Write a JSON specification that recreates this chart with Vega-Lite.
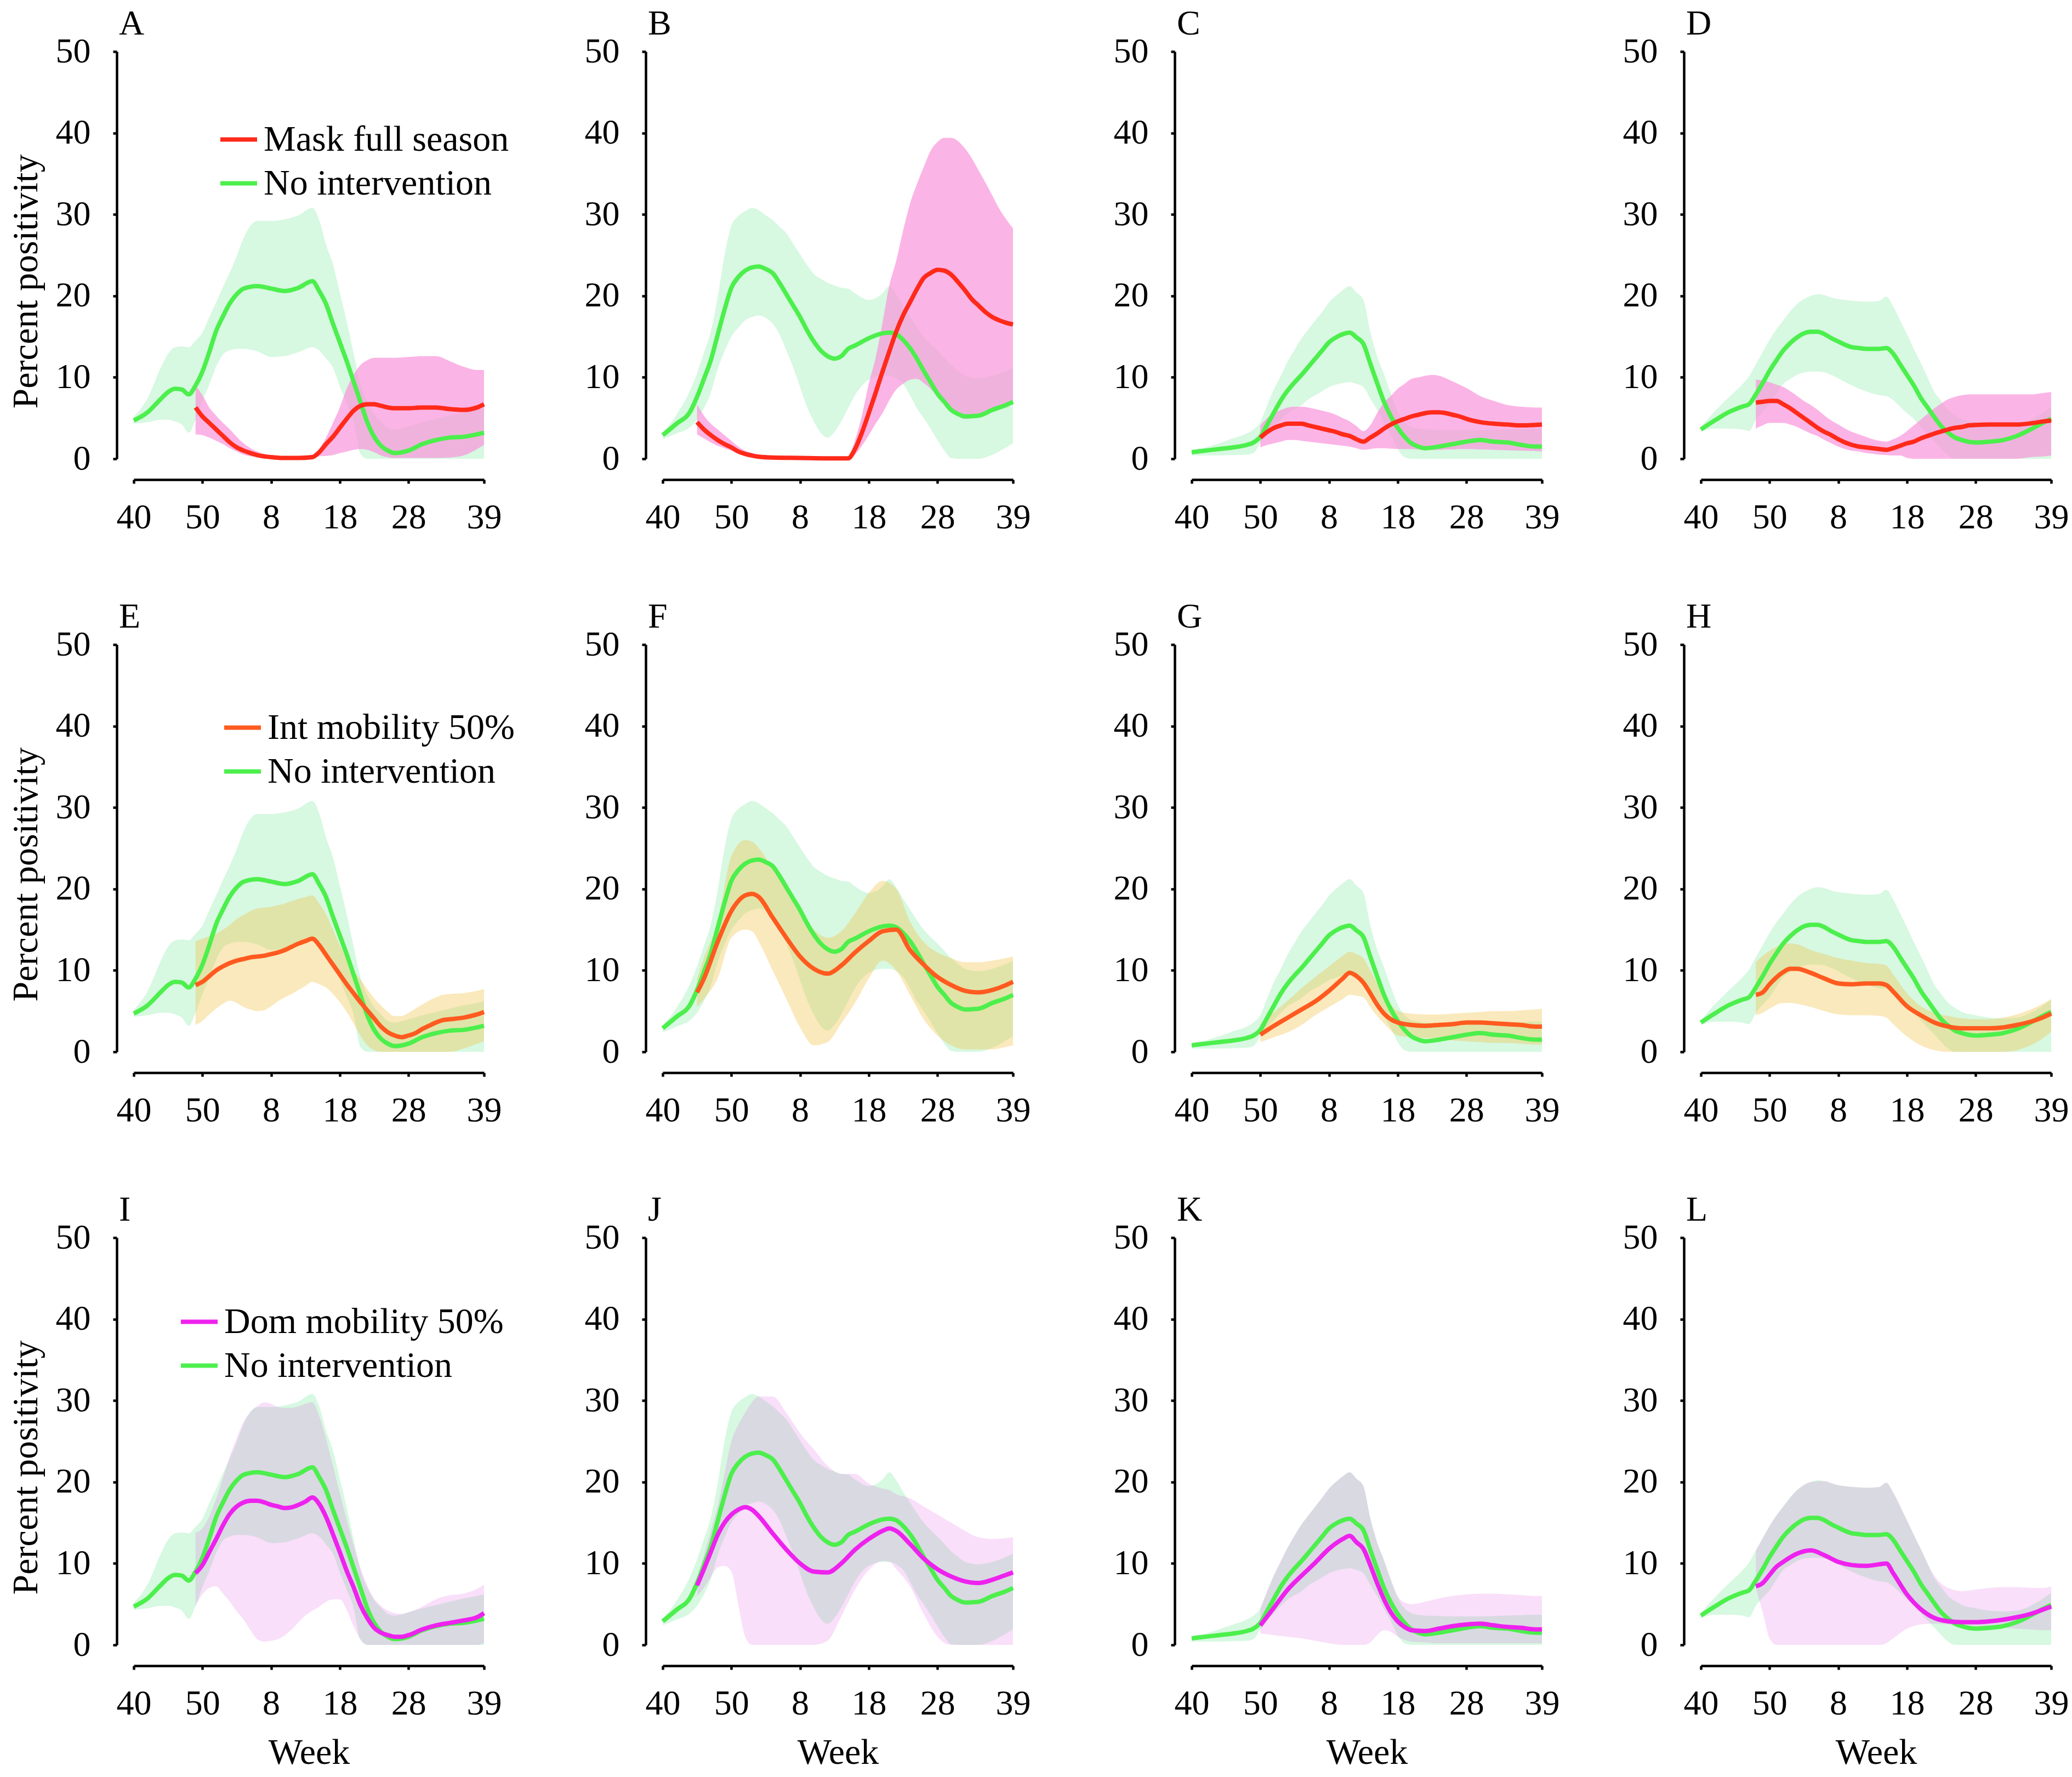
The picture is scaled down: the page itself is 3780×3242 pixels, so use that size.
{
"$schema":"https://vega.github.io/schema/vega-lite/v6.json",
"background":"white",
"padding":{"left":14,"top":12,"right":10,"bottom":10},
"config":{
 "view":{"stroke":null},
 "font":"Liberation Serif",
 "axis":{"grid":false,"domainColor":"#000","domainWidth":4.5,"tickColor":"#000","tickWidth":4.5,"tickSize":7,"labelFont":"Liberation Serif","labelFontSize":64,"labelColor":"#000","titleFont":"Liberation Serif","titleFontSize":66,"titleFontWeight":"normal","titleColor":"#000","labelFlush":false,"labelOverlap":false},
 "axisX":{"offset":38,"labelPadding":30,"titlePadding":25},
 "axisY":{"offset":31,"labelPadding":41,"titlePadding":20},
 "title":{"font":"Liberation Serif","fontSize":64,"fontWeight":"normal","anchor":"start","frame":"group","color":"#000","dx":-27,"offset":-14},
 "legend":{"orient":"none","symbolType":"stroke","symbolSize":4489,"symbolStrokeWidth":8,"labelFont":"Liberation Serif","labelFontSize":66,"labelColor":"#000","labelOffset":8,"rowPadding":9,"padding":0,"labelLimit":2000},
 "line":{"interpolate":"monotone","strokeWidth":8},
 "area":{"interpolate":"monotone"}
},
"datasets":{"d":[
{"p":"N1","t":0,"m":4.7,"lo":4.3,"hi":5.2},{"p":"N1","t":2,"m":5.7,"lo":4.5,"hi":7.4},{"p":"N1","t":4,"m":7.4,"lo":4.8,"hi":11.3},{"p":"N1","t":5,"m":8.2,"lo":4.8,"hi":12.9},{"p":"N1","t":6,"m":8.6,"lo":4.6,"hi":13.7},{"p":"N1","t":7,"m":8.5,"lo":4.2,"hi":13.8},{"p":"N1","t":8,"m":7.9,"lo":3.2,"hi":13.7},{"p":"N1","t":9,"m":9.0,"lo":4.8,"hi":14.5},{"p":"N1","t":10,"m":10.7,"lo":7.1,"hi":15.5},{"p":"N1","t":11,"m":13.1,"lo":9.1,"hi":17.4},{"p":"N1","t":12,"m":15.7,"lo":11.3,"hi":19.2},{"p":"N1","t":13,"m":17.5,"lo":12.8,"hi":21.1},{"p":"N1","t":14,"m":19.1,"lo":13.3,"hi":22.9},{"p":"N1","t":15,"m":20.2,"lo":13.5,"hi":24.9},{"p":"N1","t":16,"m":20.9,"lo":13.5,"hi":27.1},{"p":"N1","t":18,"m":21.2,"lo":13.2,"hi":29.2},{"p":"N1","t":20,"m":20.9,"lo":12.5,"hi":29.2},{"p":"N1","t":22,"m":20.6,"lo":12.6,"hi":29.4},{"p":"N1","t":24,"m":21.0,"lo":13.1,"hi":29.9},{"p":"N1","t":26,"m":21.8,"lo":13.7,"hi":30.8},{"p":"N1","t":27,"m":20.6,"lo":13.3,"hi":29.3},{"p":"N1","t":28,"m":19.0,"lo":12.3,"hi":26.3},{"p":"N1","t":29,"m":16.6,"lo":11.2,"hi":23.9},{"p":"N1","t":30,"m":14.3,"lo":8.9,"hi":20.4},{"p":"N1","t":31,"m":12.0,"lo":6.8,"hi":16.9},{"p":"N1","t":32,"m":9.5,"lo":4.6,"hi":13.0},{"p":"N1","t":33,"m":7.0,"lo":0.6,"hi":9.2},{"p":"N1","t":34,"m":4.5,"lo":0,"hi":7.0},{"p":"N1","t":35,"m":2.7,"lo":0,"hi":5.5},{"p":"N1","t":36,"m":1.6,"lo":0,"hi":4.6},{"p":"N1","t":37,"m":1.0,"lo":0,"hi":3.8},{"p":"N1","t":38,"m":0.7,"lo":0,"hi":3.6},{"p":"N1","t":40,"m":1.0,"lo":0,"hi":4.0},{"p":"N1","t":42,"m":1.8,"lo":0,"hi":4.5},{"p":"N1","t":44,"m":2.3,"lo":0,"hi":4.9},{"p":"N1","t":46,"m":2.6,"lo":0,"hi":5.3},{"p":"N1","t":48,"m":2.7,"lo":0,"hi":5.7},{"p":"N1","t":50,"m":3.0,"lo":0,"hi":6.0},{"p":"N1","t":51,"m":3.2,"lo":0,"hi":6.2},
{"p":"A","t":9,"m":6.3,"lo":3.0,"hi":9.0},{"p":"A","t":10,"m":5.2,"lo":2.9,"hi":7.8},{"p":"A","t":11,"m":4.4,"lo":2.6,"hi":6.3},{"p":"A","t":12,"m":3.6,"lo":2.2,"hi":5.3},{"p":"A","t":13,"m":2.8,"lo":1.8,"hi":4.4},{"p":"A","t":14,"m":2.0,"lo":1.3,"hi":3.6},{"p":"A","t":15,"m":1.4,"lo":0.9,"hi":2.7},{"p":"A","t":16,"m":1.0,"lo":0.5,"hi":1.9},{"p":"A","t":17,"m":0.7,"lo":0.3,"hi":1.3},{"p":"A","t":18,"m":0.45,"lo":0.2,"hi":0.9},{"p":"A","t":20,"m":0.2,"lo":0.1,"hi":0.4},{"p":"A","t":22,"m":0.1,"lo":0.05,"hi":0.25},{"p":"A","t":24,"m":0.1,"lo":0.05,"hi":0.2},{"p":"A","t":26,"m":0.2,"lo":0.1,"hi":0.4},{"p":"A","t":27,"m":0.8,"lo":0.3,"hi":1.2},{"p":"A","t":28,"m":1.8,"lo":0.35,"hi":2.6},{"p":"A","t":29,"m":2.7,"lo":0.45,"hi":4.4},{"p":"A","t":30,"m":3.8,"lo":0.7,"hi":6.3},{"p":"A","t":31,"m":4.9,"lo":0.9,"hi":8.6},{"p":"A","t":32,"m":5.9,"lo":1.1,"hi":10.3},{"p":"A","t":33,"m":6.5,"lo":1.2,"hi":11.5},{"p":"A","t":34,"m":6.7,"lo":1.1,"hi":12.1},{"p":"A","t":35,"m":6.7,"lo":0.8,"hi":12.4},{"p":"A","t":36,"m":6.5,"lo":0.4,"hi":12.4},{"p":"A","t":38,"m":6.2,"lo":0.1,"hi":12.4},{"p":"A","t":40,"m":6.2,"lo":0.1,"hi":12.5},{"p":"A","t":42,"m":6.3,"lo":0.1,"hi":12.6},{"p":"A","t":44,"m":6.3,"lo":0.1,"hi":12.6},{"p":"A","t":46,"m":6.1,"lo":0.15,"hi":12.0},{"p":"A","t":48,"m":6.0,"lo":0.4,"hi":11.3},{"p":"A","t":50,"m":6.3,"lo":1.2,"hi":10.9},{"p":"A","t":51,"m":6.7,"lo":1.7,"hi":10.9},
{"p":"N2","t":0,"m":2.9,"lo":2.4,"hi":3.2},{"p":"N2","t":2,"m":4.3,"lo":3.1,"hi":5.4},{"p":"N2","t":4,"m":5.8,"lo":3.9,"hi":8.4},{"p":"N2","t":5,"m":7.6,"lo":4.8,"hi":10.5},{"p":"N2","t":6,"m":9.8,"lo":6.2,"hi":13.0},{"p":"N2","t":7,"m":12.1,"lo":8.1,"hi":15.6},{"p":"N2","t":8,"m":15.2,"lo":11.0,"hi":19.8},{"p":"N2","t":9,"m":18.3,"lo":13.2,"hi":25.0},{"p":"N2","t":10,"m":21.0,"lo":15.0,"hi":28.6},{"p":"N2","t":11,"m":22.3,"lo":16.1,"hi":29.8},{"p":"N2","t":12,"m":23.1,"lo":17.0,"hi":30.4},{"p":"N2","t":13,"m":23.5,"lo":17.4,"hi":30.8},{"p":"N2","t":14,"m":23.6,"lo":17.6,"hi":30.5},{"p":"N2","t":15,"m":23.3,"lo":17.3,"hi":29.9},{"p":"N2","t":16,"m":22.8,"lo":16.6,"hi":29.3},{"p":"N2","t":17,"m":21.6,"lo":15.3,"hi":28.5},{"p":"N2","t":18,"m":20.2,"lo":13.3,"hi":27.7},{"p":"N2","t":19,"m":18.8,"lo":11.2,"hi":26.4},{"p":"N2","t":20,"m":17.4,"lo":8.8,"hi":25.1},{"p":"N2","t":21,"m":15.8,"lo":6.4,"hi":23.8},{"p":"N2","t":22,"m":14.4,"lo":4.6,"hi":22.7},{"p":"N2","t":23,"m":13.3,"lo":3.2,"hi":22.1},{"p":"N2","t":24,"m":12.6,"lo":2.6,"hi":21.6},{"p":"N2","t":25,"m":12.3,"lo":3.3,"hi":21.3},{"p":"N2","t":26,"m":12.6,"lo":4.6,"hi":21.0},{"p":"N2","t":27,"m":13.5,"lo":6.2,"hi":20.9},{"p":"N2","t":28,"m":13.9,"lo":7.8,"hi":20.3},{"p":"N2","t":30,"m":14.8,"lo":9.7,"hi":19.5},{"p":"N2","t":32,"m":15.4,"lo":10.2,"hi":20.3},{"p":"N2","t":33,"m":15.5,"lo":10.2,"hi":21.2},{"p":"N2","t":34,"m":15.3,"lo":9.9,"hi":20.2},{"p":"N2","t":35,"m":14.6,"lo":9.2,"hi":18.8},{"p":"N2","t":36,"m":13.6,"lo":7.8,"hi":17.5},{"p":"N2","t":37,"m":12.3,"lo":6.2,"hi":16.2},{"p":"N2","t":38,"m":10.8,"lo":5.0,"hi":15.0},{"p":"N2","t":39,"m":9.4,"lo":3.7,"hi":14.1},{"p":"N2","t":40,"m":8.0,"lo":2.3,"hi":13.3},{"p":"N2","t":41,"m":7.0,"lo":1.0,"hi":12.4},{"p":"N2","t":42,"m":6.0,"lo":0.1,"hi":11.5},{"p":"N2","t":43,"m":5.5,"lo":0,"hi":10.8},{"p":"N2","t":44,"m":5.2,"lo":0,"hi":10.2},{"p":"N2","t":46,"m":5.3,"lo":0,"hi":9.9},{"p":"N2","t":48,"m":6.0,"lo":0.5,"hi":10.2},{"p":"N2","t":50,"m":6.6,"lo":1.4,"hi":10.8},{"p":"N2","t":51,"m":7.0,"lo":1.9,"hi":11.2},
{"p":"B","t":5,"m":4.5,"lo":3.0,"hi":6.7},{"p":"B","t":6,"m":3.6,"lo":2.5,"hi":5.3},{"p":"B","t":7,"m":2.9,"lo":2.0,"hi":4.3},{"p":"B","t":8,"m":2.3,"lo":1.6,"hi":3.6},{"p":"B","t":9,"m":1.8,"lo":1.3,"hi":2.9},{"p":"B","t":10,"m":1.4,"lo":1.0,"hi":2.2},{"p":"B","t":11,"m":0.9,"lo":0.7,"hi":1.5},{"p":"B","t":12,"m":0.6,"lo":0.45,"hi":1.0},{"p":"B","t":13,"m":0.4,"lo":0.3,"hi":0.7},{"p":"B","t":14,"m":0.25,"lo":0.2,"hi":0.5},{"p":"B","t":16,"m":0.15,"lo":0.1,"hi":0.35},{"p":"B","t":20,"m":0.1,"lo":0.05,"hi":0.25},{"p":"B","t":24,"m":0.05,"lo":0.02,"hi":0.2},{"p":"B","t":27,"m":0.05,"lo":0.02,"hi":0.2},{"p":"B","t":28,"m":1.2,"lo":0.5,"hi":2.3},{"p":"B","t":29,"m":3.2,"lo":1.6,"hi":5.3},{"p":"B","t":30,"m":5.6,"lo":2.9,"hi":9.2},{"p":"B","t":31,"m":8.1,"lo":4.3,"hi":12.4},{"p":"B","t":32,"m":10.7,"lo":5.6,"hi":16.7},{"p":"B","t":33,"m":13.2,"lo":7.2,"hi":21.3},{"p":"B","t":34,"m":15.6,"lo":8.5,"hi":24.3},{"p":"B","t":35,"m":17.6,"lo":9.2,"hi":28.0},{"p":"B","t":36,"m":19.2,"lo":9.7,"hi":31.3},{"p":"B","t":37,"m":20.8,"lo":9.8,"hi":33.7},{"p":"B","t":38,"m":22.2,"lo":9.3,"hi":35.8},{"p":"B","t":39,"m":22.8,"lo":8.6,"hi":37.8},{"p":"B","t":40,"m":23.2,"lo":7.7,"hi":38.9},{"p":"B","t":41,"m":23.1,"lo":6.8,"hi":39.4},{"p":"B","t":42,"m":22.6,"lo":6.0,"hi":39.4},{"p":"B","t":43,"m":21.7,"lo":5.3,"hi":39.0},{"p":"B","t":44,"m":20.7,"lo":4.9,"hi":38.1},{"p":"B","t":45,"m":19.6,"lo":5.0,"hi":36.9},{"p":"B","t":46,"m":18.8,"lo":5.1,"hi":35.4},{"p":"B","t":47,"m":18.0,"lo":5.4,"hi":33.9},{"p":"B","t":48,"m":17.4,"lo":5.8,"hi":32.3},{"p":"B","t":49,"m":17.0,"lo":6.1,"hi":30.7},{"p":"B","t":50,"m":16.7,"lo":6.4,"hi":29.4},{"p":"B","t":51,"m":16.5,"lo":6.7,"hi":28.3},
{"p":"N3","t":0,"m":0.8,"lo":0.4,"hi":1.1},{"p":"N3","t":2,"m":1.0,"lo":0.4,"hi":1.4},{"p":"N3","t":4,"m":1.2,"lo":0.4,"hi":1.9},{"p":"N3","t":6,"m":1.4,"lo":0.45,"hi":2.5},{"p":"N3","t":8,"m":1.7,"lo":0.5,"hi":3.1},{"p":"N3","t":9,"m":2.0,"lo":0.7,"hi":3.6},{"p":"N3","t":10,"m":2.7,"lo":1.9,"hi":4.5},{"p":"N3","t":11,"m":4.2,"lo":3.0,"hi":6.6},{"p":"N3","t":12,"m":5.7,"lo":3.9,"hi":8.6},{"p":"N3","t":13,"m":7.2,"lo":4.8,"hi":10.2},{"p":"N3","t":14,"m":8.4,"lo":5.6,"hi":12.0},{"p":"N3","t":15,"m":9.4,"lo":6.1,"hi":13.4},{"p":"N3","t":16,"m":10.3,"lo":6.6,"hi":14.8},{"p":"N3","t":17,"m":11.3,"lo":7.3,"hi":15.9},{"p":"N3","t":18,"m":12.3,"lo":7.8,"hi":17.0},{"p":"N3","t":19,"m":13.3,"lo":8.3,"hi":18.0},{"p":"N3","t":20,"m":14.3,"lo":8.8,"hi":19.2},{"p":"N3","t":21,"m":14.9,"lo":9.1,"hi":20.0},{"p":"N3","t":22,"m":15.3,"lo":9.3,"hi":20.7},{"p":"N3","t":23,"m":15.5,"lo":9.4,"hi":21.2},{"p":"N3","t":24,"m":14.9,"lo":9.2,"hi":20.4},{"p":"N3","t":25,"m":14.1,"lo":8.8,"hi":19.5},{"p":"N3","t":26,"m":11.7,"lo":7.4,"hi":15.6},{"p":"N3","t":27,"m":9.3,"lo":6.0,"hi":12.6},{"p":"N3","t":28,"m":7.0,"lo":4.4,"hi":10.4},{"p":"N3","t":29,"m":5.2,"lo":2.9,"hi":8.0},{"p":"N3","t":30,"m":3.8,"lo":1.2,"hi":5.8},{"p":"N3","t":31,"m":2.7,"lo":0.2,"hi":4.5},{"p":"N3","t":32,"m":1.9,"lo":0,"hi":3.9},{"p":"N3","t":33,"m":1.5,"lo":0,"hi":3.7},{"p":"N3","t":34,"m":1.3,"lo":0,"hi":3.6},{"p":"N3","t":36,"m":1.5,"lo":0,"hi":3.55},{"p":"N3","t":38,"m":1.8,"lo":0,"hi":3.5},{"p":"N3","t":40,"m":2.1,"lo":0,"hi":3.5},{"p":"N3","t":42,"m":2.3,"lo":0,"hi":3.5},{"p":"N3","t":44,"m":2.1,"lo":0,"hi":3.55},{"p":"N3","t":46,"m":2.0,"lo":0,"hi":3.6},{"p":"N3","t":48,"m":1.7,"lo":0,"hi":3.65},{"p":"N3","t":50,"m":1.5,"lo":0,"hi":3.7},{"p":"N3","t":51,"m":1.5,"lo":0,"hi":3.7},
{"p":"C","t":10,"m":2.6,"lo":1.4,"hi":4.1},{"p":"C","t":11,"m":3.3,"lo":1.7,"hi":5.0},{"p":"C","t":12,"m":3.8,"lo":1.9,"hi":5.6},{"p":"C","t":13,"m":4.1,"lo":2.1,"hi":6.0},{"p":"C","t":14,"m":4.3,"lo":2.3,"hi":6.3},{"p":"C","t":15,"m":4.3,"lo":2.3,"hi":6.4},{"p":"C","t":16,"m":4.3,"lo":2.2,"hi":6.4},{"p":"C","t":17,"m":4.1,"lo":2.1,"hi":6.3},{"p":"C","t":18,"m":3.9,"lo":2.0,"hi":6.1},{"p":"C","t":19,"m":3.7,"lo":1.9,"hi":5.9},{"p":"C","t":20,"m":3.5,"lo":1.8,"hi":5.7},{"p":"C","t":21,"m":3.3,"lo":1.7,"hi":5.4},{"p":"C","t":22,"m":3.0,"lo":1.6,"hi":5.0},{"p":"C","t":23,"m":2.8,"lo":1.5,"hi":4.6},{"p":"C","t":24,"m":2.4,"lo":1.3,"hi":4.0},{"p":"C","t":25,"m":2.1,"lo":1.1,"hi":3.4},{"p":"C","t":26,"m":2.6,"lo":1.2,"hi":4.1},{"p":"C","t":27,"m":3.1,"lo":1.3,"hi":5.6},{"p":"C","t":28,"m":3.7,"lo":1.3,"hi":6.9},{"p":"C","t":29,"m":4.2,"lo":1.25,"hi":7.7},{"p":"C","t":30,"m":4.6,"lo":1.2,"hi":8.6},{"p":"C","t":31,"m":4.9,"lo":1.2,"hi":9.2},{"p":"C","t":32,"m":5.2,"lo":1.2,"hi":9.8},{"p":"C","t":33,"m":5.4,"lo":1.15,"hi":10.0},{"p":"C","t":34,"m":5.6,"lo":1.1,"hi":10.2},{"p":"C","t":35,"m":5.7,"lo":1.1,"hi":10.3},{"p":"C","t":36,"m":5.7,"lo":1.1,"hi":10.2},{"p":"C","t":37,"m":5.6,"lo":1.15,"hi":9.9},{"p":"C","t":38,"m":5.4,"lo":1.15,"hi":9.5},{"p":"C","t":39,"m":5.2,"lo":1.2,"hi":9.1},{"p":"C","t":40,"m":4.9,"lo":1.2,"hi":8.7},{"p":"C","t":42,"m":4.5,"lo":1.15,"hi":7.7},{"p":"C","t":44,"m":4.3,"lo":1.1,"hi":7.1},{"p":"C","t":46,"m":4.2,"lo":1.05,"hi":6.6},{"p":"C","t":48,"m":4.1,"lo":1.0,"hi":6.4},{"p":"C","t":50,"m":4.15,"lo":0.95,"hi":6.3},{"p":"C","t":51,"m":4.2,"lo":0.9,"hi":6.3},
{"p":"N4","t":0,"m":3.6,"lo":3.3,"hi":3.9},{"p":"N4","t":2,"m":4.7,"lo":3.7,"hi":5.8},{"p":"N4","t":4,"m":5.7,"lo":3.7,"hi":7.5},{"p":"N4","t":6,"m":6.4,"lo":3.6,"hi":9.1},{"p":"N4","t":7,"m":6.7,"lo":3.4,"hi":10.1},{"p":"N4","t":8,"m":7.9,"lo":4.8,"hi":11.6},{"p":"N4","t":9,"m":9.3,"lo":5.8,"hi":13.1},{"p":"N4","t":10,"m":10.8,"lo":6.7,"hi":14.6},{"p":"N4","t":11,"m":12.1,"lo":8.0,"hi":15.9},{"p":"N4","t":12,"m":13.3,"lo":9.2,"hi":17.0},{"p":"N4","t":13,"m":14.2,"lo":9.8,"hi":18.1},{"p":"N4","t":14,"m":14.9,"lo":10.3,"hi":19.0},{"p":"N4","t":15,"m":15.4,"lo":10.6,"hi":19.6},{"p":"N4","t":16,"m":15.6,"lo":10.7,"hi":20.0},{"p":"N4","t":17,"m":15.6,"lo":10.7,"hi":20.2},{"p":"N4","t":18,"m":15.3,"lo":10.6,"hi":20.1},{"p":"N4","t":19,"m":14.8,"lo":10.3,"hi":19.8},{"p":"N4","t":20,"m":14.4,"lo":9.9,"hi":19.6},{"p":"N4","t":21,"m":14.0,"lo":9.4,"hi":19.5},{"p":"N4","t":22,"m":13.7,"lo":9.0,"hi":19.4},{"p":"N4","t":23,"m":13.6,"lo":8.6,"hi":19.35},{"p":"N4","t":24,"m":13.5,"lo":8.3,"hi":19.3},{"p":"N4","t":25,"m":13.5,"lo":8.0,"hi":19.3},{"p":"N4","t":26,"m":13.5,"lo":7.8,"hi":19.4},{"p":"N4","t":27,"m":13.6,"lo":7.7,"hi":19.9},{"p":"N4","t":28,"m":12.9,"lo":7.2,"hi":18.7},{"p":"N4","t":29,"m":11.6,"lo":6.4,"hi":17.0},{"p":"N4","t":30,"m":10.3,"lo":5.6,"hi":15.3},{"p":"N4","t":31,"m":9.0,"lo":4.9,"hi":13.5},{"p":"N4","t":32,"m":7.5,"lo":3.9,"hi":11.8},{"p":"N4","t":33,"m":6.3,"lo":3.0,"hi":10.0},{"p":"N4","t":34,"m":5.1,"lo":2.1,"hi":8.2},{"p":"N4","t":35,"m":4.0,"lo":1.2,"hi":7.1},{"p":"N4","t":36,"m":3.2,"lo":0.4,"hi":6.0},{"p":"N4","t":37,"m":2.6,"lo":0,"hi":5.4},{"p":"N4","t":38,"m":2.3,"lo":0,"hi":4.9},{"p":"N4","t":40,"m":2.0,"lo":0,"hi":4.5},{"p":"N4","t":42,"m":2.1,"lo":0,"hi":4.2},{"p":"N4","t":44,"m":2.3,"lo":0,"hi":4.1},{"p":"N4","t":46,"m":2.8,"lo":0,"hi":4.2},{"p":"N4","t":48,"m":3.6,"lo":0,"hi":4.8},{"p":"N4","t":50,"m":4.5,"lo":0,"hi":5.8},{"p":"N4","t":51,"m":4.9,"lo":0,"hi":6.4},
{"p":"D","t":8,"m":6.9,"lo":3.7,"hi":9.7},{"p":"D","t":9,"m":7.0,"lo":4.1,"hi":9.6},{"p":"D","t":10,"m":7.1,"lo":4.4,"hi":9.4},{"p":"D","t":11,"m":7.1,"lo":4.4,"hi":9.1},{"p":"D","t":12,"m":6.7,"lo":4.4,"hi":8.8},{"p":"D","t":13,"m":6.2,"lo":4.2,"hi":8.3},{"p":"D","t":14,"m":5.6,"lo":3.9,"hi":7.7},{"p":"D","t":15,"m":5.0,"lo":3.5,"hi":7.1},{"p":"D","t":16,"m":4.4,"lo":3.1,"hi":6.6},{"p":"D","t":17,"m":3.8,"lo":2.8,"hi":6.0},{"p":"D","t":18,"m":3.3,"lo":2.3,"hi":5.3},{"p":"D","t":19,"m":2.9,"lo":1.9,"hi":4.7},{"p":"D","t":20,"m":2.4,"lo":1.5,"hi":4.2},{"p":"D","t":21,"m":2.0,"lo":1.2,"hi":3.7},{"p":"D","t":22,"m":1.7,"lo":1.0,"hi":3.3},{"p":"D","t":23,"m":1.5,"lo":0.9,"hi":3.0},{"p":"D","t":24,"m":1.4,"lo":0.7,"hi":2.7},{"p":"D","t":25,"m":1.3,"lo":0.6,"hi":2.4},{"p":"D","t":26,"m":1.2,"lo":0.5,"hi":2.2},{"p":"D","t":27,"m":1.1,"lo":0.45,"hi":2.1},{"p":"D","t":28,"m":1.3,"lo":0.4,"hi":2.4},{"p":"D","t":29,"m":1.6,"lo":0.4,"hi":2.8},{"p":"D","t":30,"m":1.9,"lo":0.1,"hi":3.4},{"p":"D","t":31,"m":2.1,"lo":0,"hi":4.1},{"p":"D","t":32,"m":2.5,"lo":0,"hi":4.8},{"p":"D","t":33,"m":2.8,"lo":0,"hi":5.5},{"p":"D","t":34,"m":3.1,"lo":0,"hi":6.2},{"p":"D","t":35,"m":3.35,"lo":0,"hi":6.8},{"p":"D","t":36,"m":3.6,"lo":0,"hi":7.3},{"p":"D","t":37,"m":3.8,"lo":0,"hi":7.6},{"p":"D","t":38,"m":3.9,"lo":0,"hi":7.8},{"p":"D","t":39,"m":4.1,"lo":0,"hi":7.9},{"p":"D","t":40,"m":4.15,"lo":0,"hi":7.9},{"p":"D","t":42,"m":4.2,"lo":0,"hi":7.9},{"p":"D","t":44,"m":4.2,"lo":0,"hi":7.9},{"p":"D","t":46,"m":4.2,"lo":0,"hi":7.9},{"p":"D","t":48,"m":4.35,"lo":0.2,"hi":7.9},{"p":"D","t":50,"m":4.6,"lo":0.3,"hi":8.1},{"p":"D","t":51,"m":4.7,"lo":0.4,"hi":8.2},
{"p":"E","t":9,"m":8.2,"lo":3.3,"hi":13.6},{"p":"E","t":10,"m":8.6,"lo":3.8,"hi":13.9},{"p":"E","t":11,"m":9.3,"lo":4.6,"hi":14.2},{"p":"E","t":12,"m":10.0,"lo":5.3,"hi":14.5},{"p":"E","t":13,"m":10.5,"lo":5.9,"hi":15.0},{"p":"E","t":14,"m":10.9,"lo":6.3,"hi":15.6},{"p":"E","t":15,"m":11.2,"lo":6.0,"hi":16.3},{"p":"E","t":16,"m":11.4,"lo":5.5,"hi":16.8},{"p":"E","t":17,"m":11.6,"lo":5.2,"hi":17.3},{"p":"E","t":18,"m":11.7,"lo":5.0,"hi":17.6},{"p":"E","t":19,"m":11.8,"lo":5.1,"hi":17.7},{"p":"E","t":20,"m":12.0,"lo":5.6,"hi":17.8},{"p":"E","t":21,"m":12.2,"lo":6.2,"hi":18.0},{"p":"E","t":22,"m":12.5,"lo":6.7,"hi":18.2},{"p":"E","t":23,"m":12.9,"lo":7.1,"hi":18.5},{"p":"E","t":24,"m":13.3,"lo":7.6,"hi":18.8},{"p":"E","t":25,"m":13.6,"lo":8.1,"hi":19.0},{"p":"E","t":26,"m":13.9,"lo":8.6,"hi":19.2},{"p":"E","t":27,"m":13.1,"lo":8.3,"hi":18.2},{"p":"E","t":28,"m":11.9,"lo":7.9,"hi":16.9},{"p":"E","t":29,"m":10.7,"lo":7.1,"hi":15.0},{"p":"E","t":30,"m":9.5,"lo":6.1,"hi":13.1},{"p":"E","t":31,"m":8.3,"lo":4.9,"hi":11.6},{"p":"E","t":32,"m":7.2,"lo":3.5,"hi":10.0},{"p":"E","t":33,"m":6.1,"lo":2.0,"hi":8.9},{"p":"E","t":34,"m":5.1,"lo":0.8,"hi":7.7},{"p":"E","t":35,"m":4.1,"lo":0.2,"hi":6.6},{"p":"E","t":36,"m":3.1,"lo":0,"hi":5.7},{"p":"E","t":37,"m":2.4,"lo":0,"hi":4.9},{"p":"E","t":38,"m":2.0,"lo":0,"hi":4.4},{"p":"E","t":39,"m":1.8,"lo":0,"hi":4.4},{"p":"E","t":40,"m":2.0,"lo":0,"hi":4.8},{"p":"E","t":41,"m":2.3,"lo":0,"hi":5.3},{"p":"E","t":42,"m":2.8,"lo":0,"hi":5.8},{"p":"E","t":43,"m":3.2,"lo":0,"hi":6.3},{"p":"E","t":44,"m":3.6,"lo":0,"hi":6.7},{"p":"E","t":45,"m":3.9,"lo":0,"hi":7.0},{"p":"E","t":46,"m":4.0,"lo":0,"hi":7.1},{"p":"E","t":48,"m":4.2,"lo":0.4,"hi":7.2},{"p":"E","t":50,"m":4.6,"lo":1.0,"hi":7.5},{"p":"E","t":51,"m":4.9,"lo":1.3,"hi":7.7},
{"p":"F","t":5,"m":7.3,"lo":5.5,"hi":9},{"p":"F","t":6,"m":9.0,"lo":6.5,"hi":11.5},{"p":"F","t":8,"m":13.5,"lo":9,"hi":16},{"p":"F","t":10,"m":17.3,"lo":14,"hi":24},{"p":"F","t":12,"m":19.2,"lo":15,"hi":26},{"p":"F","t":13,"m":19.4,"lo":14.8,"hi":25.8},{"p":"F","t":14,"m":19.0,"lo":13.5,"hi":25},{"p":"F","t":16,"m":16.5,"lo":10,"hi":22.5},{"p":"F","t":18,"m":14.0,"lo":6.5,"hi":19.8},{"p":"F","t":20,"m":11.7,"lo":3,"hi":17},{"p":"F","t":22,"m":10.2,"lo":0.8,"hi":15},{"p":"F","t":24,"m":9.6,"lo":1.2,"hi":14},{"p":"F","t":26,"m":10.6,"lo":3.5,"hi":14.8},{"p":"F","t":28,"m":12.2,"lo":6,"hi":17},{"p":"F","t":30,"m":13.6,"lo":9,"hi":19.5},{"p":"F","t":32,"m":14.8,"lo":11.2,"hi":21},{"p":"F","t":34,"m":15.0,"lo":10,"hi":20},{"p":"F","t":36,"m":12.5,"lo":7,"hi":16},{"p":"F","t":38,"m":10.7,"lo":4,"hi":13.5},{"p":"F","t":40,"m":9.2,"lo":2,"hi":12.2},{"p":"F","t":42,"m":8.2,"lo":0.8,"hi":11.5},{"p":"F","t":44,"m":7.5,"lo":0.3,"hi":11},{"p":"F","t":46,"m":7.3,"lo":0.3,"hi":11},{"p":"F","t":48,"m":7.6,"lo":0.3,"hi":11.2},{"p":"F","t":50,"m":8.2,"lo":0.6,"hi":11.5},{"p":"F","t":51,"m":8.6,"lo":0.8,"hi":11.7},
{"p":"G","t":10,"m":2.1,"lo":1.2,"hi":3.5},{"p":"G","t":12,"m":3.2,"lo":1.8,"hi":4.9},{"p":"G","t":14,"m":4.2,"lo":2.4,"hi":6.3},{"p":"G","t":16,"m":5.2,"lo":3.3,"hi":7.8},{"p":"G","t":18,"m":6.2,"lo":4.5,"hi":9.2},{"p":"G","t":20,"m":7.5,"lo":5.5,"hi":10.5},{"p":"G","t":22,"m":9.0,"lo":6.5,"hi":11.8},{"p":"G","t":23,"m":9.7,"lo":7.0,"hi":12.3},{"p":"G","t":24,"m":9.3,"lo":6.9,"hi":12.0},{"p":"G","t":25,"m":8.5,"lo":6.7,"hi":11.5},{"p":"G","t":26,"m":7.2,"lo":5.5,"hi":10.0},{"p":"G","t":27,"m":5.8,"lo":4.4,"hi":8.5},{"p":"G","t":28,"m":4.7,"lo":3.5,"hi":7.0},{"p":"G","t":29,"m":4.0,"lo":2.6,"hi":5.8},{"p":"G","t":30,"m":3.6,"lo":2.0,"hi":5.0},{"p":"G","t":32,"m":3.3,"lo":1.8,"hi":4.7},{"p":"G","t":34,"m":3.2,"lo":1.7,"hi":4.6},{"p":"G","t":36,"m":3.3,"lo":1.6,"hi":4.6},{"p":"G","t":38,"m":3.4,"lo":1.4,"hi":4.7},{"p":"G","t":40,"m":3.6,"lo":1.3,"hi":4.8},{"p":"G","t":42,"m":3.6,"lo":1.2,"hi":4.9},{"p":"G","t":44,"m":3.5,"lo":1.1,"hi":5.0},{"p":"G","t":46,"m":3.4,"lo":1.1,"hi":5.0},{"p":"G","t":48,"m":3.3,"lo":1.0,"hi":5.1},{"p":"G","t":50,"m":3.1,"lo":0.9,"hi":5.2},{"p":"G","t":51,"m":3.1,"lo":0.9,"hi":5.3},
{"p":"H","t":8,"m":7.0,"lo":4.5,"hi":11},{"p":"H","t":9,"m":7.3,"lo":4.8,"hi":11.8},{"p":"H","t":10,"m":8.3,"lo":5.3,"hi":12.4},{"p":"H","t":12,"m":9.8,"lo":6.0,"hi":13.2},{"p":"H","t":13,"m":10.2,"lo":6.0,"hi":13.3},{"p":"H","t":14,"m":10.2,"lo":5.9,"hi":13.2},{"p":"H","t":16,"m":9.7,"lo":5.5,"hi":12.5},{"p":"H","t":18,"m":9.0,"lo":5.0,"hi":12},{"p":"H","t":20,"m":8.4,"lo":4.6,"hi":11.5},{"p":"H","t":22,"m":8.3,"lo":4.5,"hi":11.2},{"p":"H","t":24,"m":8.4,"lo":4.5,"hi":10.9},{"p":"H","t":26,"m":8.4,"lo":4.4,"hi":10.8},{"p":"H","t":27,"m":8.2,"lo":4.2,"hi":10.6},{"p":"H","t":28,"m":7.4,"lo":3.4,"hi":9.5},{"p":"H","t":30,"m":5.6,"lo":1.9,"hi":7.2},{"p":"H","t":32,"m":4.5,"lo":0.8,"hi":5.6},{"p":"H","t":34,"m":3.6,"lo":0.2,"hi":4.8},{"p":"H","t":36,"m":3.1,"lo":0,"hi":4.4},{"p":"H","t":38,"m":2.9,"lo":0,"hi":4.1},{"p":"H","t":40,"m":2.9,"lo":0,"hi":4.0},{"p":"H","t":42,"m":2.9,"lo":0,"hi":4.0},{"p":"H","t":44,"m":3.0,"lo":0,"hi":4.2},{"p":"H","t":46,"m":3.3,"lo":0.2,"hi":4.6},{"p":"H","t":48,"m":3.7,"lo":0.8,"hi":5.2},{"p":"H","t":50,"m":4.3,"lo":1.8,"hi":6.0},{"p":"H","t":51,"m":4.7,"lo":2.5,"hi":6.5},
{"p":"I","t":9,"m":8.8,"lo":4.8,"hi":13.8},{"p":"I","t":10,"m":9.8,"lo":6.2,"hi":14.3},{"p":"I","t":11,"m":11.4,"lo":7.0,"hi":15.8},{"p":"I","t":12,"m":13.0,"lo":7.2,"hi":17.9},{"p":"I","t":13,"m":14.7,"lo":6.3,"hi":20.5},{"p":"I","t":14,"m":16.1,"lo":5.3,"hi":23.2},{"p":"I","t":15,"m":17.0,"lo":4.1,"hi":25.4},{"p":"I","t":16,"m":17.5,"lo":3.1,"hi":27.4},{"p":"I","t":17,"m":17.7,"lo":1.8,"hi":28.6},{"p":"I","t":18,"m":17.7,"lo":0.7,"hi":29.3},{"p":"I","t":19,"m":17.5,"lo":0.4,"hi":29.8},{"p":"I","t":20,"m":17.2,"lo":0.5,"hi":29.6},{"p":"I","t":21,"m":17.0,"lo":0.7,"hi":29.2},{"p":"I","t":22,"m":16.8,"lo":1.2,"hi":29.1},{"p":"I","t":23,"m":16.9,"lo":1.9,"hi":29.1},{"p":"I","t":24,"m":17.2,"lo":2.8,"hi":29.3},{"p":"I","t":25,"m":17.6,"lo":3.6,"hi":29.6},{"p":"I","t":26,"m":18.1,"lo":4.2,"hi":29.8},{"p":"I","t":27,"m":17.3,"lo":4.7,"hi":28.1},{"p":"I","t":28,"m":15.7,"lo":5.3,"hi":25.3},{"p":"I","t":29,"m":13.6,"lo":5.6,"hi":22.0},{"p":"I","t":30,"m":11.4,"lo":5.6,"hi":18.6},{"p":"I","t":31,"m":9.1,"lo":4.3,"hi":15.4},{"p":"I","t":32,"m":7.1,"lo":2.3,"hi":12.3},{"p":"I","t":33,"m":4.9,"lo":0.7,"hi":9.5},{"p":"I","t":34,"m":3.3,"lo":0,"hi":7.3},{"p":"I","t":35,"m":2.1,"lo":0,"hi":5.7},{"p":"I","t":36,"m":1.5,"lo":0,"hi":4.8},{"p":"I","t":37,"m":1.2,"lo":0,"hi":4.2},{"p":"I","t":38,"m":1.0,"lo":0,"hi":3.9},{"p":"I","t":39,"m":1.0,"lo":0,"hi":3.8},{"p":"I","t":40,"m":1.2,"lo":0,"hi":4.0},{"p":"I","t":42,"m":1.9,"lo":0,"hi":4.7},{"p":"I","t":44,"m":2.4,"lo":0,"hi":5.6},{"p":"I","t":46,"m":2.7,"lo":0,"hi":6.1},{"p":"I","t":48,"m":3.0,"lo":0,"hi":6.3},{"p":"I","t":50,"m":3.4,"lo":0,"hi":6.9},{"p":"I","t":51,"m":3.9,"lo":0.2,"hi":7.4},
{"p":"J","t":5,"m":7.3,"lo":6,"hi":8},{"p":"J","t":6,"m":9.3,"lo":7,"hi":11},{"p":"J","t":7,"m":11.4,"lo":8.3,"hi":14},{"p":"J","t":8,"m":13.5,"lo":9.5,"hi":17},{"p":"J","t":9,"m":15.0,"lo":9.7,"hi":21},{"p":"J","t":10,"m":16.0,"lo":9.0,"hi":25},{"p":"J","t":11,"m":16.6,"lo":5.0,"hi":27},{"p":"J","t":12,"m":16.9,"lo":1.0,"hi":28.5},{"p":"J","t":13,"m":16.6,"lo":0,"hi":29.8},{"p":"J","t":14,"m":15.8,"lo":0,"hi":30.5},{"p":"J","t":16,"m":13.7,"lo":0,"hi":30.5},{"p":"J","t":18,"m":11.7,"lo":0,"hi":28.5},{"p":"J","t":20,"m":10.0,"lo":0,"hi":26},{"p":"J","t":22,"m":9.0,"lo":0,"hi":24},{"p":"J","t":24,"m":8.9,"lo":0.5,"hi":22},{"p":"J","t":26,"m":10.0,"lo":3.5,"hi":21},{"p":"J","t":28,"m":11.7,"lo":6.8,"hi":21},{"p":"J","t":30,"m":13.0,"lo":9.2,"hi":19.8},{"p":"J","t":32,"m":14.0,"lo":10.3,"hi":19.2},{"p":"J","t":33,"m":14.3,"lo":10.2,"hi":19},{"p":"J","t":34,"m":14.0,"lo":9.3,"hi":18.5},{"p":"J","t":36,"m":12.4,"lo":7.2,"hi":18},{"p":"J","t":38,"m":10.6,"lo":3.8,"hi":17},{"p":"J","t":40,"m":9.3,"lo":1.0,"hi":16},{"p":"J","t":42,"m":8.4,"lo":0,"hi":15},{"p":"J","t":44,"m":7.8,"lo":0,"hi":14},{"p":"J","t":46,"m":7.6,"lo":0,"hi":13.2},{"p":"J","t":48,"m":8.0,"lo":0,"hi":13},{"p":"J","t":50,"m":8.6,"lo":0,"hi":13.1},{"p":"J","t":51,"m":8.9,"lo":0,"hi":13.2},
{"p":"K","t":10,"m":2.4,"lo":1.4,"hi":4.5},{"p":"K","t":12,"m":4.6,"lo":1.2,"hi":8.6},{"p":"K","t":14,"m":6.8,"lo":1.0,"hi":12.0},{"p":"K","t":16,"m":8.5,"lo":0.8,"hi":14.8},{"p":"K","t":18,"m":10.1,"lo":0.5,"hi":17.0},{"p":"K","t":20,"m":11.8,"lo":0.2,"hi":19.2},{"p":"K","t":22,"m":13.0,"lo":0,"hi":20.7},{"p":"K","t":23,"m":13.4,"lo":0,"hi":21.2},{"p":"K","t":24,"m":12.6,"lo":0,"hi":20.4},{"p":"K","t":25,"m":11.8,"lo":0,"hi":19.5},{"p":"K","t":26,"m":9.8,"lo":0.3,"hi":15.6},{"p":"K","t":27,"m":7.6,"lo":1.2,"hi":12.6},{"p":"K","t":28,"m":5.6,"lo":1.8,"hi":10.4},{"p":"K","t":29,"m":4.0,"lo":1.6,"hi":8.0},{"p":"K","t":30,"m":2.9,"lo":1.0,"hi":6.0},{"p":"K","t":31,"m":2.2,"lo":0.6,"hi":5.2},{"p":"K","t":32,"m":1.8,"lo":0.4,"hi":5.0},{"p":"K","t":34,"m":1.7,"lo":0.3,"hi":5.3},{"p":"K","t":36,"m":2.0,"lo":0.2,"hi":5.7},{"p":"K","t":38,"m":2.3,"lo":0.2,"hi":6.0},{"p":"K","t":40,"m":2.5,"lo":0.2,"hi":6.2},{"p":"K","t":42,"m":2.6,"lo":0.2,"hi":6.3},{"p":"K","t":44,"m":2.4,"lo":0.2,"hi":6.3},{"p":"K","t":46,"m":2.2,"lo":0.2,"hi":6.2},{"p":"K","t":48,"m":2.1,"lo":0.2,"hi":6.1},{"p":"K","t":50,"m":1.9,"lo":0.2,"hi":6.0},{"p":"K","t":51,"m":1.9,"lo":0.2,"hi":6.0},
{"p":"L","t":8,"m":7.2,"lo":7.0,"hi":11.6},{"p":"L","t":9,"m":7.6,"lo":4.0,"hi":13.1},{"p":"L","t":10,"m":8.6,"lo":0.8,"hi":14.6},{"p":"L","t":11,"m":9.6,"lo":0,"hi":15.9},{"p":"L","t":12,"m":10.2,"lo":0,"hi":17.0},{"p":"L","t":14,"m":11.2,"lo":0,"hi":19.0},{"p":"L","t":16,"m":11.6,"lo":0,"hi":20.0},{"p":"L","t":18,"m":11.0,"lo":0,"hi":20.1},{"p":"L","t":20,"m":10.2,"lo":0,"hi":19.6},{"p":"L","t":22,"m":9.8,"lo":0,"hi":19.4},{"p":"L","t":24,"m":9.7,"lo":0,"hi":19.3},{"p":"L","t":26,"m":9.9,"lo":0,"hi":19.4},{"p":"L","t":27,"m":10.0,"lo":0.2,"hi":19.9},{"p":"L","t":28,"m":8.8,"lo":0.8,"hi":18.7},{"p":"L","t":30,"m":6.2,"lo":2.0,"hi":15.3},{"p":"L","t":32,"m":4.4,"lo":2.5,"hi":11.8},{"p":"L","t":34,"m":3.3,"lo":2.6,"hi":8.5},{"p":"L","t":36,"m":2.9,"lo":2.5,"hi":7.0},{"p":"L","t":38,"m":2.8,"lo":2.4,"hi":6.6},{"p":"L","t":40,"m":2.8,"lo":2.3,"hi":6.8},{"p":"L","t":42,"m":2.9,"lo":2.2,"hi":7.0},{"p":"L","t":44,"m":3.1,"lo":2.1,"hi":7.1},{"p":"L","t":46,"m":3.4,"lo":2.0,"hi":7.1},{"p":"L","t":48,"m":3.8,"lo":1.9,"hi":7.0},{"p":"L","t":50,"m":4.4,"lo":1.8,"hi":7.0},{"p":"L","t":51,"m":4.7,"lo":1.8,"hi":7.2}
]},
"columns":4,
"spacing":{"row":339,"column":290},
"bounds":"flush",
"resolve":{"scale":{"color":"independent"},"legend":{"color":"independent"}},
"concat":[
  {"width":675,"height":743,"title":{"text":"A"},
   "encoding":{"x":{"field":"t","type":"quantitative","scale":{"domain":[0,51],"range":[0,639],"nice":false,"zero":false},"axis":{"values":[0,10,20,30,40,51],"title":null,"labelExpr":"datum.value == 0 ? '40' : datum.value == 10 ? '50' : datum.value == 20 ? '8' : datum.value == 30 ? '18' : datum.value == 40 ? '28' : '39'"}}},
   "layer":[
    {"data":{"name":"d"},"transform":[{"filter":{"field":"p","equal":"N1"}}],"mark":{"type":"area","color":"#7BE89A","opacity":0.3},"encoding":{"y":{"field":"lo","type":"quantitative","scale":{"domain":[0,50],"nice":false},"axis":{"values":[0,10,20,30,40,50],"title":"Percent positivity","titleY":419}},"y2":{"field":"hi"}}},
    {"data":{"name":"d"},"transform":[{"filter":{"field":"p","equal":"A"}}],"mark":{"type":"area","color":"#F994DB","opacity":0.7},"encoding":{"y":{"field":"lo","type":"quantitative"},"y2":{"field":"hi"}}},
    {"data":{"name":"d"},"transform":[{"filter":{"field":"p","equal":"N1"}}],"mark":{"type":"line"},"encoding":{"y":{"field":"m","type":"quantitative"},"color":{"datum":"No intervention","scale":{"domain":["Mask full season","No intervention"],"range":["#FF2A1A","#4CEF4C"]},"legend":{"title":null,"legendX":154,"legendY":123}}}},
    {"data":{"name":"d"},"transform":[{"filter":{"field":"p","equal":"A"}}],"mark":{"type":"line"},"encoding":{"y":{"field":"m","type":"quantitative"},"color":{"datum":"Mask full season"}}}
   ]},
  {"width":675,"height":743,"title":{"text":"B"},
   "encoding":{"x":{"field":"t","type":"quantitative","scale":{"domain":[0,51],"range":[0,639],"nice":false,"zero":false},"axis":{"values":[0,10,20,30,40,51],"title":null,"labelExpr":"datum.value == 0 ? '40' : datum.value == 10 ? '50' : datum.value == 20 ? '8' : datum.value == 30 ? '18' : datum.value == 40 ? '28' : '39'"}}},
   "layer":[
    {"data":{"name":"d"},"transform":[{"filter":{"field":"p","equal":"N2"}}],"mark":{"type":"area","color":"#7BE89A","opacity":0.3},"encoding":{"y":{"field":"lo","type":"quantitative","scale":{"domain":[0,50],"nice":false},"axis":{"values":[0,10,20,30,40,50],"title":null}},"y2":{"field":"hi"}}},
    {"data":{"name":"d"},"transform":[{"filter":{"field":"p","equal":"B"}}],"mark":{"type":"area","color":"#F994DB","opacity":0.7},"encoding":{"y":{"field":"lo","type":"quantitative"},"y2":{"field":"hi"}}},
    {"data":{"name":"d"},"transform":[{"filter":{"field":"p","equal":"N2"}}],"mark":{"type":"line","color":"#4CEF4C"},"encoding":{"y":{"field":"m","type":"quantitative"}}},
    {"data":{"name":"d"},"transform":[{"filter":{"field":"p","equal":"B"}}],"mark":{"type":"line","color":"#FF2A1A"},"encoding":{"y":{"field":"m","type":"quantitative"}}}
   ]},
  {"width":639,"height":743,"title":{"text":"C"},
   "encoding":{"x":{"field":"t","type":"quantitative","scale":{"domain":[0,51],"nice":false,"zero":false},"axis":{"values":[0,10,20,30,40,51],"title":null,"labelExpr":"datum.value == 0 ? '40' : datum.value == 10 ? '50' : datum.value == 20 ? '8' : datum.value == 30 ? '18' : datum.value == 40 ? '28' : '39'"}}},
   "layer":[
    {"data":{"name":"d"},"transform":[{"filter":{"field":"p","equal":"N3"}}],"mark":{"type":"area","color":"#7BE89A","opacity":0.3},"encoding":{"y":{"field":"lo","type":"quantitative","scale":{"domain":[0,50],"nice":false},"axis":{"values":[0,10,20,30,40,50],"title":null}},"y2":{"field":"hi"}}},
    {"data":{"name":"d"},"transform":[{"filter":{"field":"p","equal":"C"}}],"mark":{"type":"area","color":"#F994DB","opacity":0.7},"encoding":{"y":{"field":"lo","type":"quantitative"},"y2":{"field":"hi"}}},
    {"data":{"name":"d"},"transform":[{"filter":{"field":"p","equal":"N3"}}],"mark":{"type":"line","color":"#4CEF4C"},"encoding":{"y":{"field":"m","type":"quantitative"}}},
    {"data":{"name":"d"},"transform":[{"filter":{"field":"p","equal":"C"}}],"mark":{"type":"line","color":"#FF2A1A"},"encoding":{"y":{"field":"m","type":"quantitative"}}}
   ]},
  {"width":639,"height":743,"title":{"text":"D"},
   "encoding":{"x":{"field":"t","type":"quantitative","scale":{"domain":[0,51],"nice":false,"zero":false},"axis":{"values":[0,10,20,30,40,51],"title":null,"labelExpr":"datum.value == 0 ? '40' : datum.value == 10 ? '50' : datum.value == 20 ? '8' : datum.value == 30 ? '18' : datum.value == 40 ? '28' : '39'"}}},
   "layer":[
    {"data":{"name":"d"},"transform":[{"filter":{"field":"p","equal":"N4"}}],"mark":{"type":"area","color":"#7BE89A","opacity":0.3},"encoding":{"y":{"field":"lo","type":"quantitative","scale":{"domain":[0,50],"nice":false},"axis":{"values":[0,10,20,30,40,50],"title":null}},"y2":{"field":"hi"}}},
    {"data":{"name":"d"},"transform":[{"filter":{"field":"p","equal":"D"}}],"mark":{"type":"area","color":"#F994DB","opacity":0.7},"encoding":{"y":{"field":"lo","type":"quantitative"},"y2":{"field":"hi"}}},
    {"data":{"name":"d"},"transform":[{"filter":{"field":"p","equal":"N4"}}],"mark":{"type":"line","color":"#4CEF4C"},"encoding":{"y":{"field":"m","type":"quantitative"}}},
    {"data":{"name":"d"},"transform":[{"filter":{"field":"p","equal":"D"}}],"mark":{"type":"line","color":"#FF2A1A"},"encoding":{"y":{"field":"m","type":"quantitative"}}}
   ]},
  {"width":675,"height":743,"title":{"text":"E"},
   "encoding":{"x":{"field":"t","type":"quantitative","scale":{"domain":[0,51],"range":[0,639],"nice":false,"zero":false},"axis":{"values":[0,10,20,30,40,51],"title":null,"labelExpr":"datum.value == 0 ? '40' : datum.value == 10 ? '50' : datum.value == 20 ? '8' : datum.value == 30 ? '18' : datum.value == 40 ? '28' : '39'"}}},
   "layer":[
    {"data":{"name":"d"},"transform":[{"filter":{"field":"p","equal":"N1"}}],"mark":{"type":"area","color":"#7BE89A","opacity":0.3},"encoding":{"y":{"field":"lo","type":"quantitative","scale":{"domain":[0,50],"nice":false},"axis":{"values":[0,10,20,30,40,50],"title":"Percent positivity","titleY":419}},"y2":{"field":"hi"}}},
    {"data":{"name":"d"},"transform":[{"filter":{"field":"p","equal":"E"}}],"mark":{"type":"area","color":"#F0C040","opacity":0.35},"encoding":{"y":{"field":"lo","type":"quantitative"},"y2":{"field":"hi"}}},
    {"data":{"name":"d"},"transform":[{"filter":{"field":"p","equal":"N1"}}],"mark":{"type":"line"},"encoding":{"y":{"field":"m","type":"quantitative"},"color":{"datum":"No intervention","scale":{"domain":["Int mobility 50%","No intervention"],"range":["#FF5A1F","#4CEF4C"]},"legend":{"title":null,"legendX":161,"legendY":114}}}},
    {"data":{"name":"d"},"transform":[{"filter":{"field":"p","equal":"E"}}],"mark":{"type":"line"},"encoding":{"y":{"field":"m","type":"quantitative"},"color":{"datum":"Int mobility 50%"}}}
   ]},
  {"width":675,"height":743,"title":{"text":"F"},
   "encoding":{"x":{"field":"t","type":"quantitative","scale":{"domain":[0,51],"range":[0,639],"nice":false,"zero":false},"axis":{"values":[0,10,20,30,40,51],"title":null,"labelExpr":"datum.value == 0 ? '40' : datum.value == 10 ? '50' : datum.value == 20 ? '8' : datum.value == 30 ? '18' : datum.value == 40 ? '28' : '39'"}}},
   "layer":[
    {"data":{"name":"d"},"transform":[{"filter":{"field":"p","equal":"N2"}}],"mark":{"type":"area","color":"#7BE89A","opacity":0.3},"encoding":{"y":{"field":"lo","type":"quantitative","scale":{"domain":[0,50],"nice":false},"axis":{"values":[0,10,20,30,40,50],"title":null}},"y2":{"field":"hi"}}},
    {"data":{"name":"d"},"transform":[{"filter":{"field":"p","equal":"F"}}],"mark":{"type":"area","color":"#F0C040","opacity":0.35},"encoding":{"y":{"field":"lo","type":"quantitative"},"y2":{"field":"hi"}}},
    {"data":{"name":"d"},"transform":[{"filter":{"field":"p","equal":"N2"}}],"mark":{"type":"line","color":"#4CEF4C"},"encoding":{"y":{"field":"m","type":"quantitative"}}},
    {"data":{"name":"d"},"transform":[{"filter":{"field":"p","equal":"F"}}],"mark":{"type":"line","color":"#FF5A1F"},"encoding":{"y":{"field":"m","type":"quantitative"}}}
   ]},
  {"width":639,"height":743,"title":{"text":"G"},
   "encoding":{"x":{"field":"t","type":"quantitative","scale":{"domain":[0,51],"nice":false,"zero":false},"axis":{"values":[0,10,20,30,40,51],"title":null,"labelExpr":"datum.value == 0 ? '40' : datum.value == 10 ? '50' : datum.value == 20 ? '8' : datum.value == 30 ? '18' : datum.value == 40 ? '28' : '39'"}}},
   "layer":[
    {"data":{"name":"d"},"transform":[{"filter":{"field":"p","equal":"N3"}}],"mark":{"type":"area","color":"#7BE89A","opacity":0.3},"encoding":{"y":{"field":"lo","type":"quantitative","scale":{"domain":[0,50],"nice":false},"axis":{"values":[0,10,20,30,40,50],"title":null}},"y2":{"field":"hi"}}},
    {"data":{"name":"d"},"transform":[{"filter":{"field":"p","equal":"G"}}],"mark":{"type":"area","color":"#F0C040","opacity":0.35},"encoding":{"y":{"field":"lo","type":"quantitative"},"y2":{"field":"hi"}}},
    {"data":{"name":"d"},"transform":[{"filter":{"field":"p","equal":"N3"}}],"mark":{"type":"line","color":"#4CEF4C"},"encoding":{"y":{"field":"m","type":"quantitative"}}},
    {"data":{"name":"d"},"transform":[{"filter":{"field":"p","equal":"G"}}],"mark":{"type":"line","color":"#FF5A1F"},"encoding":{"y":{"field":"m","type":"quantitative"}}}
   ]},
  {"width":639,"height":743,"title":{"text":"H"},
   "encoding":{"x":{"field":"t","type":"quantitative","scale":{"domain":[0,51],"nice":false,"zero":false},"axis":{"values":[0,10,20,30,40,51],"title":null,"labelExpr":"datum.value == 0 ? '40' : datum.value == 10 ? '50' : datum.value == 20 ? '8' : datum.value == 30 ? '18' : datum.value == 40 ? '28' : '39'"}}},
   "layer":[
    {"data":{"name":"d"},"transform":[{"filter":{"field":"p","equal":"N4"}}],"mark":{"type":"area","color":"#7BE89A","opacity":0.3},"encoding":{"y":{"field":"lo","type":"quantitative","scale":{"domain":[0,50],"nice":false},"axis":{"values":[0,10,20,30,40,50],"title":null}},"y2":{"field":"hi"}}},
    {"data":{"name":"d"},"transform":[{"filter":{"field":"p","equal":"H"}}],"mark":{"type":"area","color":"#F0C040","opacity":0.35},"encoding":{"y":{"field":"lo","type":"quantitative"},"y2":{"field":"hi"}}},
    {"data":{"name":"d"},"transform":[{"filter":{"field":"p","equal":"N4"}}],"mark":{"type":"line","color":"#4CEF4C"},"encoding":{"y":{"field":"m","type":"quantitative"}}},
    {"data":{"name":"d"},"transform":[{"filter":{"field":"p","equal":"H"}}],"mark":{"type":"line","color":"#FF5A1F"},"encoding":{"y":{"field":"m","type":"quantitative"}}}
   ]},
  {"width":675,"height":743,"title":{"text":"I"},
   "encoding":{"x":{"field":"t","type":"quantitative","scale":{"domain":[0,51],"range":[0,639],"nice":false,"zero":false},"axis":{"values":[0,10,20,30,40,51],"title":"Week","titleX":319.5,"labelExpr":"datum.value == 0 ? '40' : datum.value == 10 ? '50' : datum.value == 20 ? '8' : datum.value == 30 ? '18' : datum.value == 40 ? '28' : '39'"}}},
   "layer":[
    {"data":{"name":"d"},"transform":[{"filter":{"field":"p","equal":"N1"}}],"mark":{"type":"area","color":"#7BE89A","opacity":0.3},"encoding":{"y":{"field":"lo","type":"quantitative","scale":{"domain":[0,50],"nice":false},"axis":{"values":[0,10,20,30,40,50],"title":"Percent positivity","titleY":419}},"y2":{"field":"hi"}}},
    {"data":{"name":"d"},"transform":[{"filter":{"field":"p","equal":"I"}}],"mark":{"type":"area","color":"#E060E8","opacity":0.2},"encoding":{"y":{"field":"lo","type":"quantitative"},"y2":{"field":"hi"}}},
    {"data":{"name":"d"},"transform":[{"filter":{"field":"p","equal":"N1"}}],"mark":{"type":"line"},"encoding":{"y":{"field":"m","type":"quantitative"},"color":{"datum":"No intervention","scale":{"domain":["Dom mobility 50%","No intervention"],"range":["#EE22EE","#4CEF4C"]},"legend":{"title":null,"legendX":82,"legendY":116}}}},
    {"data":{"name":"d"},"transform":[{"filter":{"field":"p","equal":"I"}}],"mark":{"type":"line"},"encoding":{"y":{"field":"m","type":"quantitative"},"color":{"datum":"Dom mobility 50%"}}}
   ]},
  {"width":675,"height":743,"title":{"text":"J"},
   "encoding":{"x":{"field":"t","type":"quantitative","scale":{"domain":[0,51],"range":[0,639],"nice":false,"zero":false},"axis":{"values":[0,10,20,30,40,51],"title":"Week","titleX":319.5,"labelExpr":"datum.value == 0 ? '40' : datum.value == 10 ? '50' : datum.value == 20 ? '8' : datum.value == 30 ? '18' : datum.value == 40 ? '28' : '39'"}}},
   "layer":[
    {"data":{"name":"d"},"transform":[{"filter":{"field":"p","equal":"N2"}}],"mark":{"type":"area","color":"#7BE89A","opacity":0.3},"encoding":{"y":{"field":"lo","type":"quantitative","scale":{"domain":[0,50],"nice":false},"axis":{"values":[0,10,20,30,40,50],"title":null}},"y2":{"field":"hi"}}},
    {"data":{"name":"d"},"transform":[{"filter":{"field":"p","equal":"J"}}],"mark":{"type":"area","color":"#E060E8","opacity":0.2},"encoding":{"y":{"field":"lo","type":"quantitative"},"y2":{"field":"hi"}}},
    {"data":{"name":"d"},"transform":[{"filter":{"field":"p","equal":"N2"}}],"mark":{"type":"line","color":"#4CEF4C"},"encoding":{"y":{"field":"m","type":"quantitative"}}},
    {"data":{"name":"d"},"transform":[{"filter":{"field":"p","equal":"J"}}],"mark":{"type":"line","color":"#EE22EE"},"encoding":{"y":{"field":"m","type":"quantitative"}}}
   ]},
  {"width":639,"height":743,"title":{"text":"K"},
   "encoding":{"x":{"field":"t","type":"quantitative","scale":{"domain":[0,51],"nice":false,"zero":false},"axis":{"values":[0,10,20,30,40,51],"title":"Week","labelExpr":"datum.value == 0 ? '40' : datum.value == 10 ? '50' : datum.value == 20 ? '8' : datum.value == 30 ? '18' : datum.value == 40 ? '28' : '39'"}}},
   "layer":[
    {"data":{"name":"d"},"transform":[{"filter":{"field":"p","equal":"N3"}}],"mark":{"type":"area","color":"#7BE89A","opacity":0.3},"encoding":{"y":{"field":"lo","type":"quantitative","scale":{"domain":[0,50],"nice":false},"axis":{"values":[0,10,20,30,40,50],"title":null}},"y2":{"field":"hi"}}},
    {"data":{"name":"d"},"transform":[{"filter":{"field":"p","equal":"K"}}],"mark":{"type":"area","color":"#E060E8","opacity":0.2},"encoding":{"y":{"field":"lo","type":"quantitative"},"y2":{"field":"hi"}}},
    {"data":{"name":"d"},"transform":[{"filter":{"field":"p","equal":"N3"}}],"mark":{"type":"line","color":"#4CEF4C"},"encoding":{"y":{"field":"m","type":"quantitative"}}},
    {"data":{"name":"d"},"transform":[{"filter":{"field":"p","equal":"K"}}],"mark":{"type":"line","color":"#EE22EE"},"encoding":{"y":{"field":"m","type":"quantitative"}}}
   ]},
  {"width":639,"height":743,"title":{"text":"L"},
   "encoding":{"x":{"field":"t","type":"quantitative","scale":{"domain":[0,51],"nice":false,"zero":false},"axis":{"values":[0,10,20,30,40,51],"title":"Week","labelExpr":"datum.value == 0 ? '40' : datum.value == 10 ? '50' : datum.value == 20 ? '8' : datum.value == 30 ? '18' : datum.value == 40 ? '28' : '39'"}}},
   "layer":[
    {"data":{"name":"d"},"transform":[{"filter":{"field":"p","equal":"N4"}}],"mark":{"type":"area","color":"#7BE89A","opacity":0.3},"encoding":{"y":{"field":"lo","type":"quantitative","scale":{"domain":[0,50],"nice":false},"axis":{"values":[0,10,20,30,40,50],"title":null}},"y2":{"field":"hi"}}},
    {"data":{"name":"d"},"transform":[{"filter":{"field":"p","equal":"L"}}],"mark":{"type":"area","color":"#E060E8","opacity":0.2},"encoding":{"y":{"field":"lo","type":"quantitative"},"y2":{"field":"hi"}}},
    {"data":{"name":"d"},"transform":[{"filter":{"field":"p","equal":"N4"}}],"mark":{"type":"line","color":"#4CEF4C"},"encoding":{"y":{"field":"m","type":"quantitative"}}},
    {"data":{"name":"d"},"transform":[{"filter":{"field":"p","equal":"L"}}],"mark":{"type":"line","color":"#EE22EE"},"encoding":{"y":{"field":"m","type":"quantitative"}}}
   ]}
]
}
